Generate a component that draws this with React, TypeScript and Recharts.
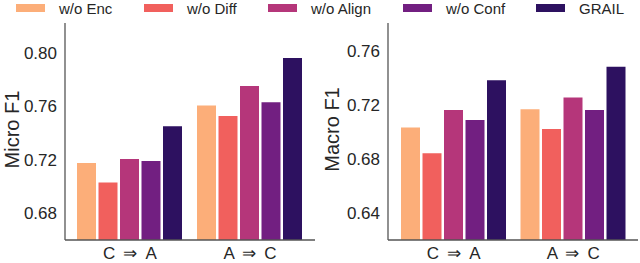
import React from "react";
import { BarChart, Bar, XAxis, YAxis, Label } from "recharts";

const categories = ["C ⇒ A", "A ⇒ C"];
const seriesNames = ["w/o Enc", "w/o Diff", "w/o Align", "w/o Conf", "GRAIL"];
const seriesColors = ["#fcae79", "#f1605d", "#b5367a", "#721f81", "#2d1160"];

// Micro F1
const microEnc = [0.7175, 0.7605];
const microDiff = [0.703, 0.7526];
const microAlign = [0.7205, 0.775];
const microConf = [0.719, 0.7628];
const microGrail = [0.745, 0.7958];
const microTicks = [0.68, 0.72, 0.76, 0.8];

// Macro F1
const macroEnc = [0.7035, 0.717];
const macroDiff = [0.6844, 0.7023];
const macroAlign = [0.7165, 0.7257];
const macroConf = [0.7091, 0.7165];
const macroGrail = [0.7385, 0.7486];
const macroTicks = [0.64, 0.68, 0.72, 0.76];

const keys = ["enc", "diff", "align", "conf", "grail"];

const build = (cols: number[][]) =>
    categories.map((c, i) => {
        const row: Record<string, string | number> = { cat: c };
        keys.forEach((k, j) => (row[k] = cols[j][i]));
        return row;
    });

const microData = build([microEnc, microDiff, microAlign, microConf, microGrail]);
const macroData = build([macroEnc, macroDiff, macroAlign, macroConf, macroGrail]);

const FONT = '"Liberation Sans", Arial, Helvetica, sans-serif';
const TEXT = "#262626";
const AXIS = "#555";

// legend layout (pixels from the left of the page)
const legendLeft = [16, 144, 268, 403, 536];

// widen the gaps around the arrow a little, like the reference
const spaced = (s: string) => s.replace(/ /g, " \u2009");

function Panel(props: {
    data: Record<string, string | number>[];
    domain: [number, number];
    ticks: number[];
    label: string;
    yWidth: number;
    padLeft: number;
    padRight: number;
    marginRight: number;
}) {
    const { data, domain, ticks, label, yWidth, padLeft, padRight, marginRight } = props;
    return (
        <BarChart
            width={320}
            height={263}
            data={data}
            margin={{ top: 23, right: marginRight, bottom: 0, left: 0 }}
            barCategoryGap={7}
            barGap={2.5}
        >
            <XAxis
                dataKey="cat"
                height={23}
                tickLine={false}
                tickSize={0}
                tickMargin={7}
                padding={{ left: padLeft, right: padRight }}
                axisLine={{ stroke: AXIS, strokeWidth: 1.3 }}
                tickFormatter={spaced}
                tick={{ fill: TEXT, fontSize: 17, fontFamily: FONT }}
            />
            <YAxis
                type="number"
                domain={domain}
                ticks={ticks}
                width={yWidth}
                tickLine={false}
                tickSize={0}
                tickMargin={8}
                axisLine={{ stroke: AXIS, strokeWidth: 1.3 }}
                tickFormatter={(v: number) => v.toFixed(2)}
                tick={{ fill: TEXT, fontSize: 17, fontFamily: FONT }}
            >
                <Label
                    content={({ viewBox }: any) => {
                        const cy = viewBox.y + viewBox.height / 2 - 2;
                        const cx = viewBox.x + 18.5;
                        return (
                            <text
                                x={cx}
                                y={cy}
                                transform={`rotate(-90 ${cx} ${cy})`}
                                textAnchor="middle"
                                fill={TEXT}
                                fontSize={20}
                                fontFamily={FONT}
                            >
                                {label}
                            </text>
                        );
                    }}
                />
            </YAxis>
            {keys.map((k, i) => (
                <Bar key={k} dataKey={k} fill={seriesColors[i]} isAnimationActive={false} />
            ))}
        </BarChart>
    );
}

export default function App() {
    return (
        <div style={{ position: "absolute", left: 0, top: 0, width: 640, height: 263, background: "#fff", fontFamily: FONT }}>
            {seriesNames.map((name, i) => (
                <div key={name} style={{ position: "absolute", left: legendLeft[i], top: 0, height: 17 }}>
                    <div style={{ position: "absolute", left: 0, top: 4, width: 29, height: 8, background: seriesColors[i] }} />
                    <span style={{ position: "absolute", left: 43, top: 0.3, fontSize: 15, color: TEXT, whiteSpace: "nowrap", lineHeight: "normal" }}>{name}</span>
                </div>
            ))}
            <div style={{ position: "absolute", left: 0, top: 0 }}>
                <Panel data={microData} domain={[0.66, 0.822]} ticks={microTicks} label="Micro F1" yWidth={65} padLeft={5} padRight={5} marginRight={5} />
            </div>
            <div style={{ position: "absolute", left: 320, top: 0 }}>
                <Panel data={macroData} domain={[0.62, 0.781]} ticks={macroTicks} label="Macro F1" yWidth={68} padLeft={6} padRight={5} marginRight={2} />
            </div>
        </div>
    );
}
